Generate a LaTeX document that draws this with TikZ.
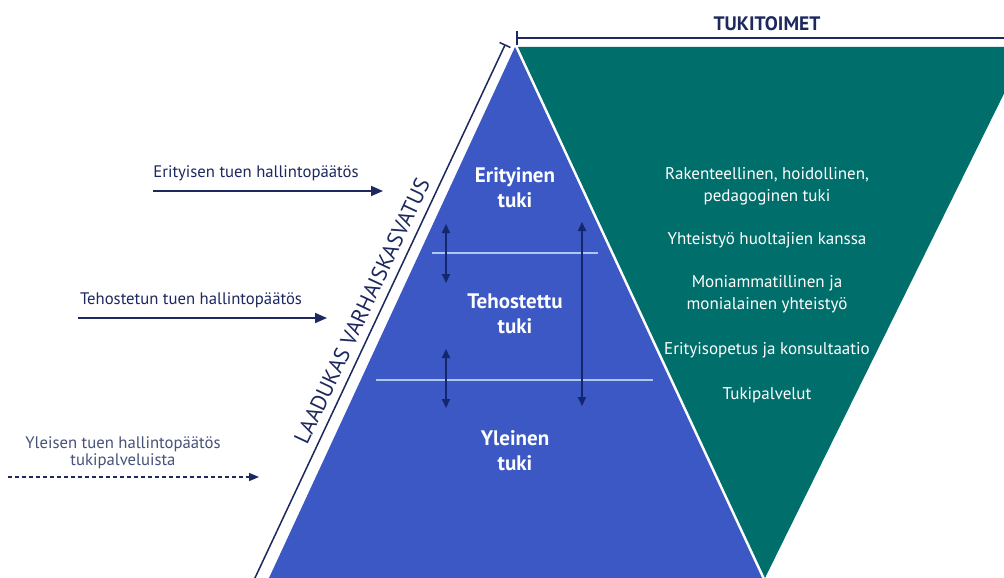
\documentclass[tikz,border=0pt]{standalone}
\usepackage{fontspec}
\setmainfont{PT Sans}
\usetikzlibrary{arrows.meta}
\definecolor{pblue}{RGB}{59,88,196}
\definecolor{pteal}{RGB}{0,110,106}
\definecolor{navy}{RGB}{28,40,94}
\definecolor{navylight}{RGB}{70,82,120}
\definecolor{sepline}{RGB}{175,198,240}
\definecolor{arrnavy}{RGB}{20,38,110}
\tikzset{
  lbl/.style={text=navy, font=\fontsize{16.7}{17}\selectfont, inner sep=0pt},
  tealtxt/.style={text=white, font=\fontsize{17}{22}\selectfont, align=center, inner sep=0pt},
  levtxt/.style={text=white, font=\bfseries\fontsize{21}{25}\selectfont, align=center, inner sep=0pt},
  decarrow/.style={navy, line width=1.8pt, -{Triangle[length=12pt,width=10pt]}},
  decdash/.style={navy, line width=1.4pt, dash pattern=on 4pt off 3pt, -{Triangle[length=10pt,width=8pt]}},
  dblarrow/.style={arrnavy, line width=2pt, {Triangle[length=9pt,width=8pt]}-{Triangle[length=9pt,width=8pt]}},
  sep/.style={sepline, line width=1.5pt},
  rule/.style={navy, line width=1.8pt}
}
\begin{document}
\begin{tikzpicture}[x=1pt,y=-1pt]
\useasboundingbox (0,0) rectangle (1004,578);
\clip (0,0) rectangle (1004,578);
\fill[white] (0,0) rectangle (1004,578);
% teal inverted triangle
\fill[pteal] (518,47) -- (1027,47) -- (765,578) -- cycle;
% blue pyramid
\fill[pblue] (515,47) -- (762,578) -- (269,578) -- cycle;
% separators
\draw[sep] (432,253) -- (598,253);
\draw[sep] (376,380) -- (653,380);
% double arrows
\coordinate (d1a) at (446,224); \coordinate (d1b) at (446,283);
\coordinate (d2a) at (446,349); \coordinate (d2b) at (446,408);
\coordinate (d3a) at (582,222); \coordinate (d3b) at (582,406);
\draw[dblarrow] (d1a) -- (d1b);
\draw[dblarrow] (d2a) -- (d2b);
\draw[dblarrow] (d3a) -- (d3b);
% level labels
\node[levtxt] (eri) at (515,188) {Erityinen\\tuki};
\node[levtxt] (teh) at (515,314) {Tehostettu\\tuki};
\node[levtxt] (yle) at (515,451) {Yleinen\\tuki};
% teal texts
\node[tealtxt] (t1) at (767,186) {Rakenteellinen, hoidollinen,\\pedagoginen tuki};
\node[tealtxt] (t2) at (767,240) {Yhteistyö huoltajien kanssa};
\node[tealtxt] (t3) at (767,294) {Moniammatillinen ja\\monialainen yhteistyö};
\node[tealtxt] (t4) at (767,350) {Erityisopetus ja konsultaatio};
\node[tealtxt] (t5) at (767,395) {Tukipalvelut};
% top rule TUKITOIMET
\coordinate (ta) at (517,38); \coordinate (tb) at (1004,38);
\draw[rule] (ta) -- (tb);
\coordinate (tt1) at (517,31); \coordinate (tt2) at (517,45);
\draw[rule] (tt1) -- (tt2);
\node[text=navy, font=\bfseries\fontsize{19.5}{20}\selectfont, inner sep=0pt] (tuki) at (767,24) {TUKITOIMET};
% diagonal rule LAADUKAS VARHAISKASVATUS
\coordinate (la) at (505,45); \coordinate (lb) at (254,580);
\draw[navy, line width=1.5pt] (la) -- (lb);
\coordinate (lt1) at (499.6,42.5); \coordinate (lt2) at (510.4,47.5);
\draw[navy, line width=1.5pt] (lt1) -- (lt2);
\node[text=navy, rotate=64.9, anchor=south, font=\fontsize{22}{22}\selectfont, inner sep=0pt] (laatu) at (369.3,314.5) {LAADUKAS VARHAISKASVATUS};
% left decision arrows
\node[lbl] (h1) at (256,173) {Erityisen tuen hallintopäätös};
\coordinate (a1s) at (153,191); \coordinate (a1e) at (383,191);
\draw[decarrow] (a1s) -- (a1e);
\node[lbl] (h2) at (191,300) {Tehostetun tuen hallintopäätös};
\coordinate (a2s) at (78,318); \coordinate (a2e) at (327,318);
\draw[decarrow] (a2s) -- (a2e);
\node[lbl, text=navylight, align=center, font=\fontsize{16.7}{17}\selectfont] (h3) at (123,453) {Yleisen tuen hallintopäätös\\tukipalveluista};
\coordinate (a3s) at (8,477); \coordinate (a3e) at (259,477);
\draw[decdash] (a3s) -- (a3e);
\end{tikzpicture}
\end{document}
